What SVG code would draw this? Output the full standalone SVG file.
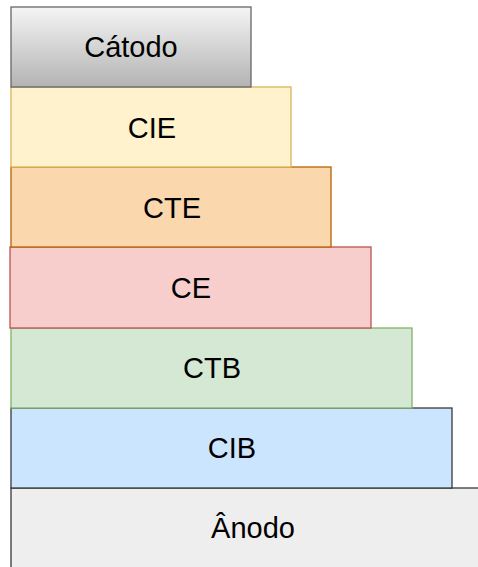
<svg xmlns="http://www.w3.org/2000/svg" width="478" height="567" viewBox="0 0 478 567">
  <defs>
    <linearGradient id="grayGrad" x1="0" y1="0" x2="0" y2="1">
      <stop offset="0" stop-color="#f5f5f5"/>
      <stop offset="1" stop-color="#b3b3b3"/>
    </linearGradient>
    <style>
      rect { stroke-width: 1.3; }
      text { font-family: "Liberation Sans", Arial, sans-serif; font-size: 29px; fill: #000000; text-anchor: middle; dominant-baseline: central; }
    </style>
  </defs>
  <rect x="0" y="0" width="478" height="567" fill="#ffffff"/>
  <g id="anodo">
    <rect x="11" y="488" width="490" height="90" fill="#eeeeee" stroke="#36393d"/>
    <text x="253" y="528">Ânodo</text>
  </g>
  <g id="cib">
    <rect x="11" y="408" width="441" height="80" fill="#cce5ff" stroke="#36393d"/>
    <text x="232" y="448">CIB</text>
  </g>
  <g id="ctb">
    <rect x="11" y="328" width="401" height="80" fill="#d5e8d4" stroke="#82b366"/>
    <text x="212" y="368">CTB</text>
  </g>
  <g id="ce">
    <rect x="10" y="247" width="361" height="81" fill="#f8cecc" stroke="#b85450"/>
    <text x="191" y="288">CE</text>
  </g>
  <g id="cte">
    <rect x="11" y="167" width="320" height="80" fill="#fad7ac" stroke="#b46504"/>
    <text x="172" y="208">CTE</text>
  </g>
  <g id="cie">
    <rect x="11" y="87" width="280" height="80" fill="#fff2cc" stroke="#d6b656"/>
    <text x="152" y="128">CIE</text>
  </g>
  <g id="catodo">
    <rect x="11" y="7" width="240" height="80" fill="url(#grayGrad)" stroke="#666666"/>
    <text x="131" y="47">Cátodo</text>
  </g>
  <g id="connectors"/>
</svg>
